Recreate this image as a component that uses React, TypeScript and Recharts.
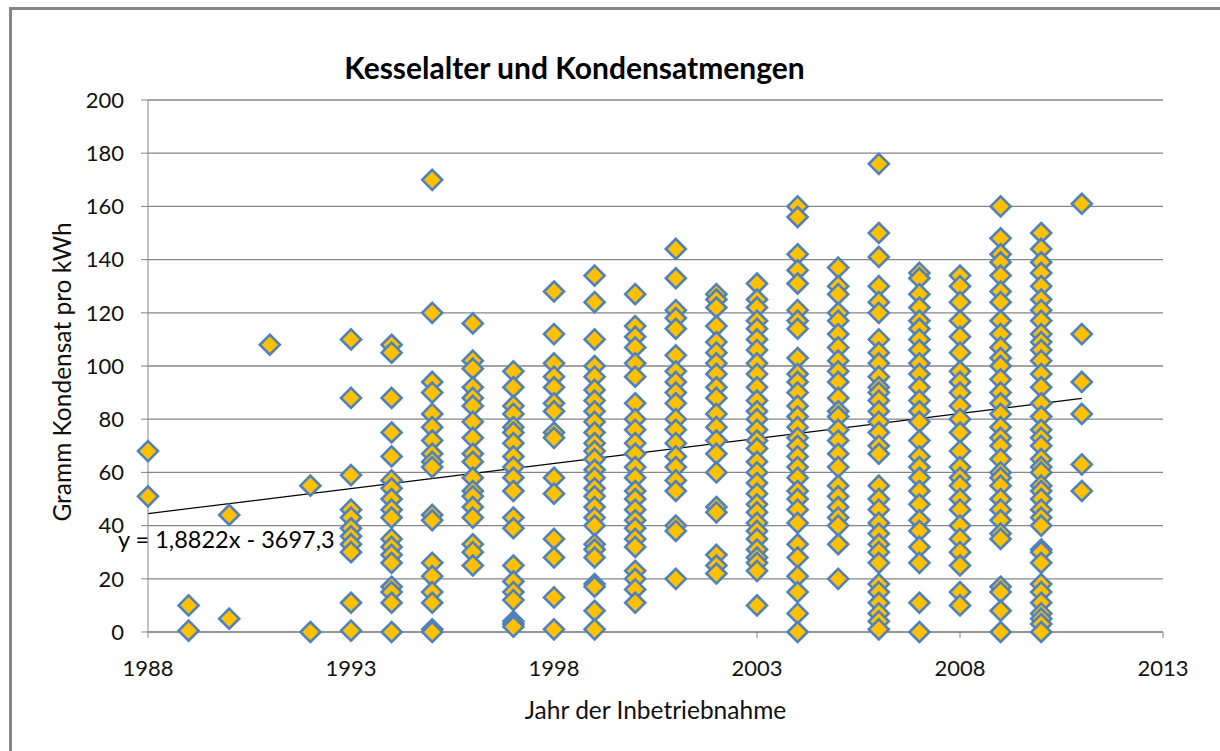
import { ScatterChart, Scatter, XAxis, YAxis, CartesianGrid, ReferenceLine } from "recharts";

// Gramm Kondensat pro kWh, je Jahr der Inbetriebnahme
const y1988 = [68, 51];
const y1989 = [10, 0.5];
const y1990 = [44, 5];
const y1991 = [108];
const y1992 = [55, 0];
const y1993 = [110, 88, 59, 46, 43, 39, 36, 33, 30, 11, 0.5];
const y1994 = [108, 105, 88, 75, 66, 57, 54, 50, 46, 43, 35, 32, 29, 26, 17, 15, 11, 0];
const y1995 = [170, 120, 94, 90, 82, 77, 72, 67, 64, 62, 44, 42, 26, 21, 15, 11, 1, 0];
const y1996 = [116, 102, 99, 92, 88, 85, 79, 73, 67, 64, 58, 53, 51, 47, 43, 33, 30, 25];
const y1997 = [98, 92, 85, 82, 77, 75, 71, 66, 62, 58, 53, 43, 39, 25, 19, 15, 12, 4, 3, 2];
const y1998 = [128, 112, 101, 96, 92, 86, 83, 75, 73, 58, 52, 35, 28, 13, 1];
const y1999 = [134, 124, 110, 100, 96, 91, 87, 83, 79, 75, 71, 68, 65, 61, 58, 54, 51, 47, 43, 40, 33, 31, 28, 18, 17, 8, 1];
const y2000 = [127, 115, 111, 107, 101, 96, 86, 80, 76, 71, 67, 62, 58, 53, 50, 46, 42, 39, 35, 32, 23, 20, 16, 11];
const y2001 = [144, 133, 121, 118, 114, 104, 98, 94, 90, 86, 80, 76, 71, 66, 62, 57, 53, 40, 38, 20];
const y2002 = [127, 125, 122, 115, 109, 105, 101, 97, 92, 88, 82, 77, 72, 67, 60, 47, 45, 29, 25, 22];
const y2003 = [131, 125, 122, 117, 114, 110, 106, 101, 97, 92, 87, 83, 80, 76, 72, 69, 64, 60, 56, 52, 48, 45, 41, 38, 35, 31, 28, 26, 23, 10];
const y2004 = [160, 156, 142, 136, 131, 121, 117, 114, 103, 97, 94, 90, 85, 81, 77, 73, 70, 66, 62, 58, 53, 50, 46, 41, 33, 28, 21, 15, 7, 0];
const y2005 = [137, 130, 127, 120, 117, 112, 107, 102, 98, 94, 88, 83, 81, 76, 72, 67, 62, 55, 51, 47, 43, 40, 33, 20];
const y2006 = [176, 150, 141, 130, 124, 120, 110, 105, 101, 96, 92, 90, 87, 83, 79, 75, 70, 67, 55, 50, 46, 41, 37, 33, 30, 26, 18, 15, 11, 7, 4, 1];
const y2007 = [135, 133, 127, 122, 117, 114, 110, 106, 101, 97, 92, 87, 83, 79, 72, 66, 62, 58, 53, 48, 42, 38, 32, 26, 11, 0];
const y2008 = [134, 130, 124, 117, 111, 105, 98, 94, 90, 85, 80, 75, 68, 62, 58, 55, 50, 46, 40, 35, 30, 25, 15, 10];
const y2009 = [160, 148, 142, 139, 134, 128, 124, 117, 112, 107, 103, 100, 95, 90, 86, 82, 77, 73, 70, 65, 60, 58, 55, 50, 46, 42, 37, 35, 17, 15, 8, 0];
const y2010 = [150, 144, 139, 135, 130, 125, 121, 117, 112, 109, 106, 102, 97, 92, 86, 81, 76, 73, 70, 65, 62, 60, 55, 53, 50, 46, 43, 40, 31, 30, 26, 18, 15, 11, 7, 5, 3, 0];
const y2011 = [161, 112, 94, 82, 63, 53];

const years = [1988, 1989, 1990, 1991, 1992, 1993, 1994, 1995, 1996, 1997, 1998, 1999,
  2000, 2001, 2002, 2003, 2004, 2005, 2006, 2007, 2008, 2009, 2010, 2011];
const valuesByYear = [y1988, y1989, y1990, y1991, y1992, y1993, y1994, y1995, y1996, y1997, y1998, y1999,
  y2000, y2001, y2002, y2003, y2004, y2005, y2006, y2007, y2008, y2009, y2010, y2011];

const xTicks = [1988, 1993, 1998, 2003, 2008, 2013];
const yTicks = [0, 20, 40, 60, 80, 100, 120, 140, 160, 180, 200];

// lineare Trendlinie aus Excel
const slope = 1.8822;
const intercept = -3697.3;
const trendFrom = 1988;
const trendTo = 2011;

const points = years.flatMap((year, i) => valuesByYear[i].map((v) => ({ x: year, y: v })));

const FONT = "Lato, 'Open Sans', sans-serif";
const GRID = "#868686";

function Diamond(props: any) {
  const { cx, cy } = props;
  const r = 10;
  return (
    <polygon
      points={`${cx},${cy - r} ${cx + r},${cy} ${cx},${cy + r} ${cx - r},${cy}`}
      fill="#FFC000"
      stroke="#4F81BD"
      strokeWidth={2.6}
    />
  );
}

export default function App() {
  return (
    <div style={{ position: "absolute", left: 0, top: 0, width: 1220, height: 751, background: "#fff", fontFamily: FONT, overflow: "hidden" }}>
      <div style={{ position: "absolute", left: 9, top: 7, width: 1220, height: 760, borderLeft: "3px solid #868686", borderTop: "3px solid #868686" }} />
      <ScatterChart width={1220} height={751} margin={{ top: 100, right: 57, bottom: 0, left: 0 }} style={{ position: "absolute", left: 0, top: 0 }}>
        <CartesianGrid vertical={false} stroke={GRID} strokeWidth={1.3} />
        <XAxis
          type="number"
          dataKey="x"
          domain={[1988, 2013]}
          ticks={xTicks}
          interval={0}
          height={119}
          tickSize={6}
          tickMargin={22}
          axisLine={{ stroke: GRID }}
          tickLine={{ stroke: GRID }}
          tick={{ fill: "#111", fontSize: 22, fontFamily: FONT }}
        />
        <YAxis
          type="number"
          dataKey="y"
          domain={[0, 200]}
          ticks={yTicks}
          interval={0}
          width={148}
          tickSize={7}
          tickMargin={17}
          axisLine={{ stroke: GRID }}
          tickLine={{ stroke: GRID }}
          tick={{ fill: "#111", fontSize: 22, fontFamily: FONT }}
        />
        <Scatter data={points} shape={Diamond} isAnimationActive={false} />
        <ReferenceLine
          segment={[
            { x: trendFrom, y: slope * trendFrom + intercept },
            { x: trendTo, y: slope * trendTo + intercept },
          ]}
          stroke="#000"
          strokeWidth={1.2}
          ifOverflow="visible"
        />
      </ScatterChart>
      <div style={{ position: "absolute", left: 0, width: 1149, top: 49, lineHeight: "36px", textAlign: "center", fontSize: 30, fontWeight: 700, color: "#000" }}>
        Kesselalter und Kondensatmengen
      </div>
      <div style={{ position: "absolute", left: 118, top: 525, lineHeight: "28px", fontSize: 23.5, color: "#000", whiteSpace: "nowrap" }}>
        y = 1,8822x - 3697,3
      </div>
      <div style={{ position: "absolute", left: 148, width: 1015, top: 695, lineHeight: "30px", textAlign: "center", fontSize: 24.5, color: "#111" }}>
        Jahr der Inbetriebnahme
      </div>
      <div
        style={{
          position: "absolute",
          left: 61,
          top: 372,
          transform: "translate(-50%, -50%) rotate(-90deg)",
          fontSize: 24.5,
          color: "#111",
          whiteSpace: "nowrap",
        }}
      >
        Gramm Kondensat pro kWh
      </div>
    </div>
  );
}
